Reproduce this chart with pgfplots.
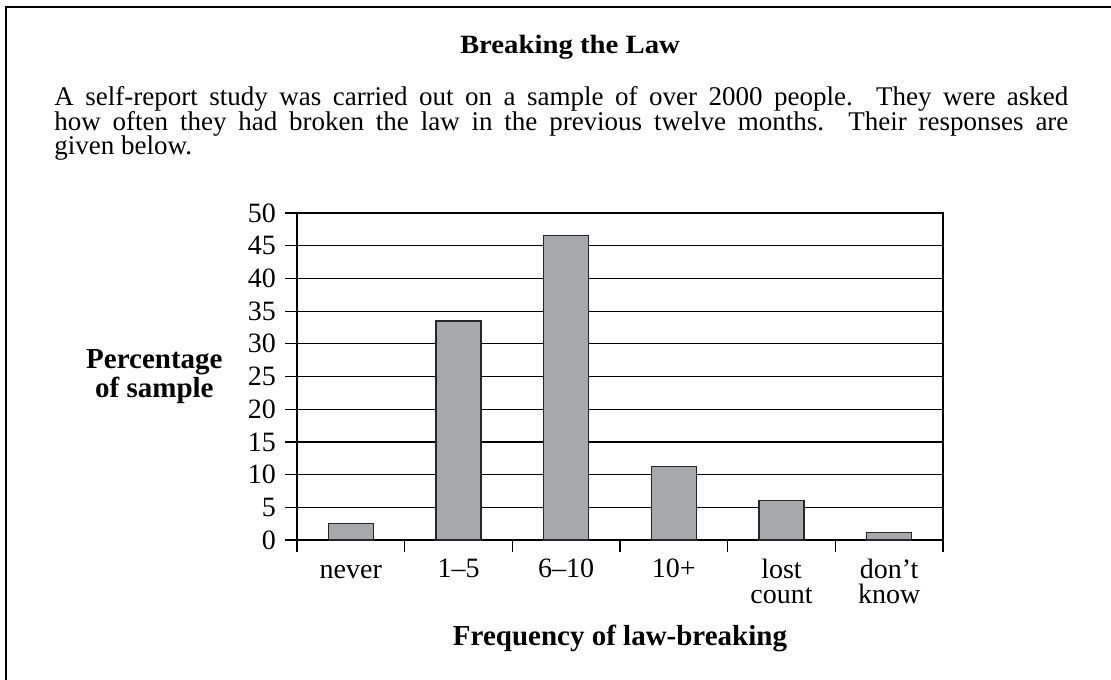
\documentclass[border=0pt]{standalone}
\usepackage{fontspec}
\setmainfont{Liberation Serif}
\usepackage{graphicx}
\usepackage{pgfplots}
\pgfplotsset{compat=1.18}
\definecolor{bargray}{RGB}{167,168,172}
\begin{document}
\begin{tikzpicture}[x=0.5pt,y=0.5pt]
\useasboundingbox (0,0) rectangle (1111,679);
\draw[line width=1pt] (6,-20) -- (6,672) -- (1130,672);
\node[anchor=base, inner sep=0pt] at (570,625.7) {\resizebox{110pt}{\height}{\bfseries\fontsize{13.2}{15}\selectfont Breaking the Law}};
\node[anchor=base west, inner sep=0pt] at (54,573) {\fontsize{13.5}{12.25}\selectfont\makebox[507pt][s]{A self-report study was carried out on a sample of over 2000 people.  They were asked}};
\node[anchor=base west, inner sep=0pt] at (54,548.3) {\fontsize{13.5}{12.25}\selectfont\makebox[507pt][s]{how often they had broken the law in the previous twelve months.  Their responses are}};
\node[anchor=base west, inner sep=0pt] at (54,524) {\fontsize{13.5}{12.25}\selectfont given below.};
\begin{axis}[
  at={(148.5pt,69.5pt)}, anchor=south west,
  scale only axis, width=323pt, height=163.5pt,
  enlargelimits=false,
  xmin=-0.5, xmax=5.5, ymin=0, ymax=50,
  ytick={0,5,...,50},
  xtick={-0.5,0.5,1.5,2.5,3.5,4.5,5.5},
  x tick label as interval,
  xticklabels={\vphantom{l}never,1–5,6–10,10+,{lost\\count},{don’t\\know}},
  xtick pos=bottom, ytick pos=left,
  tick align=outside, major tick length=6pt,
  tick style={black, line width=0.6pt},
  axis line style={black, line width=1.1pt},
  x axis line style={line width=1.4pt},
  ymajorgrids, grid style={black, line width=0.6pt},
  /pgf/number format/assume math mode=true,
  ticklabel style={font=\fontsize{14}{12.5}\selectfont},
  xticklabel style={align=center},
  yticklabel style={xshift=-1pt},
  xlabel={\textbf{Frequency of law-breaking}},
  xlabel style={font=\fontsize{14.5}{14.5}\selectfont, at={(axis description cs:0.5,-0.324)}, anchor=base},
  ylabel={\textbf{Percentage}\\\textbf{of sample}},
  ylabel style={font=\fontsize{14.5}{14.5}\selectfont, rotate=-90, align=center, inner sep=0pt, at={(axis description cs:-0.1146,0.5)}, anchor=east},
]
\addplot[ybar, bar width=22.5pt, fill=bargray, draw=black!85, line width=0.6pt]
  coordinates {(0,2.5) (1,33.5) (2,46.5) (3,11.2) (4,6) (5,1.2)};
\end{axis}
\end{tikzpicture}
\end{document}
